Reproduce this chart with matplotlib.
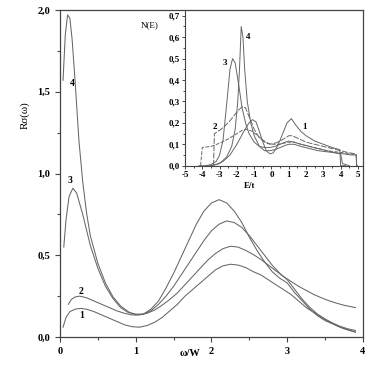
import matplotlib
matplotlib.use("Agg")
import matplotlib.pyplot as plt
from matplotlib.ticker import MultipleLocator, FuncFormatter

# ---------------- main panel data ----------------
x4 = [0.04, 0.07, 0.1, 0.13, 0.16, 0.2, 0.25, 0.3, 0.35, 0.4, 0.5, 0.6, 0.7, 0.8, 0.9, 1.0, 1.1, 1.2, 1.3, 1.4,
      1.5, 1.6, 1.7, 1.8, 1.9, 2.0, 2.1, 2.2, 2.3, 2.4, 2.5, 2.6, 2.7, 2.8, 2.9, 3.0, 3.1, 3.2, 3.3, 3.4,
      3.5, 3.6, 3.7, 3.8, 3.9]
y4 = [1.57, 1.85, 1.97, 1.95, 1.82, 1.56, 1.2, 0.95, 0.76, 0.62, 0.45, 0.33, 0.245, 0.19, 0.155, 0.135, 0.14, 0.17, 0.22, 0.3,
      0.39, 0.49, 0.59, 0.69, 0.77, 0.82, 0.84, 0.82, 0.77, 0.70, 0.61, 0.53, 0.46, 0.40, 0.36, 0.33, 0.27, 0.22, 0.17, 0.13,
      0.10, 0.08, 0.06, 0.045, 0.03]
x3 = [0.05, 0.08, 0.12, 0.17, 0.22, 0.3, 0.4, 0.5, 0.6, 0.7, 0.8, 0.9, 1.0, 1.1, 1.2, 1.3, 1.4, 1.5, 1.6, 1.7,
      1.8, 1.9, 2.0, 2.1, 2.2, 2.3, 2.4, 2.5, 2.6, 2.7, 2.8, 2.9, 3.0, 3.1, 3.2, 3.3, 3.4, 3.5, 3.6, 3.7, 3.8, 3.9]
y3 = [0.55, 0.72, 0.86, 0.91, 0.88, 0.75, 0.56, 0.42, 0.31, 0.235, 0.18, 0.15, 0.14, 0.14, 0.16, 0.2, 0.25, 0.31, 0.38, 0.45,
      0.52, 0.59, 0.65, 0.69, 0.71, 0.70, 0.67, 0.62, 0.56, 0.50, 0.44, 0.39, 0.35, 0.29, 0.23, 0.18, 0.14, 0.11, 0.085, 0.065, 0.05, 0.04]
x2 = [0.11, 0.15, 0.2, 0.26, 0.35, 0.45, 0.55, 0.65, 0.75, 0.85, 0.95, 1.05, 1.15, 1.25, 1.35, 1.45, 1.55, 1.65, 1.75, 1.85,
      1.95, 2.05, 2.15, 2.25, 2.35, 2.45, 2.55, 2.65, 2.75, 2.85, 2.95, 3.05, 3.15, 3.25, 3.35, 3.45, 3.55, 3.65, 3.75, 3.9]
y2 = [0.2, 0.23, 0.245, 0.25, 0.24, 0.22, 0.2, 0.18, 0.16, 0.145, 0.135, 0.135, 0.145, 0.165, 0.195, 0.23, 0.27, 0.32, 0.37, 0.42,
      0.47, 0.51, 0.54, 0.555, 0.55, 0.53, 0.505, 0.475, 0.44, 0.405, 0.37, 0.34, 0.31, 0.285, 0.26, 0.24, 0.222, 0.207, 0.194, 0.18]
x1 = [0.04, 0.08, 0.13, 0.2, 0.27, 0.35, 0.45, 0.55, 0.65, 0.75, 0.85, 0.95, 1.05, 1.15, 1.25, 1.35, 1.45, 1.55, 1.65, 1.75,
      1.85, 1.95, 2.05, 2.15, 2.25, 2.35, 2.45, 2.55, 2.65, 2.75, 2.85, 2.95, 3.05, 3.15, 3.25, 3.35, 3.45, 3.55, 3.65, 3.75, 3.9]
y1 = [0.06, 0.12, 0.155, 0.17, 0.175, 0.17, 0.155, 0.135, 0.115, 0.095, 0.075, 0.063, 0.06, 0.07, 0.09, 0.12, 0.16, 0.2, 0.25, 0.29,
      0.33, 0.37, 0.41, 0.435, 0.445, 0.44, 0.425, 0.40, 0.38, 0.35, 0.32, 0.29, 0.26, 0.22, 0.18, 0.15, 0.12, 0.095, 0.07, 0.05, 0.03]

# ---------------- inset data ----------------
e1 = [-4.2, -3.6, -3.2, -2.8, -2.4, -2.0, -1.6, -1.3, -1.1, -0.9, -0.7, -0.5, -0.3, -0.1, 0.1, 0.3, 0.5, 0.7, 0.9, 1.15,
      1.4, 1.7, 2.0, 2.5, 3.0, 3.5, 3.95, 4.0, 4.3]
n1 = [0, 0, 0.005, 0.02, 0.05, 0.1, 0.16, 0.2, 0.215, 0.205, 0.16, 0.11, 0.07, 0.055, 0.06, 0.085, 0.12, 0.16, 0.2, 0.22,
      0.19, 0.16, 0.14, 0.115, 0.1, 0.085, 0.075, 0.0, 0.0]
e2 = [-3.35, -3.3, -3.0, -2.7, -2.4, -2.1, -1.9, -1.7, -1.5, -1.3, -1.0, -0.7, -0.4, -0.1, 0.2, 0.5, 0.8, 1.0, 1.2, 1.6,
      2.0, 2.5, 3.0, 3.5, 4.0, 4.5, 4.9, 4.92, 5.0]
n2 = [0, 0.15, 0.165, 0.185, 0.21, 0.24, 0.26, 0.275, 0.27, 0.23, 0.17, 0.13, 0.11, 0.1, 0.105, 0.115, 0.13, 0.14, 0.14, 0.125,
      0.11, 0.1, 0.09, 0.08, 0.07, 0.06, 0.055, 0, 0]
e5 = [-4.1, -4.0, -3.5, -3.0, -2.5, -2.0, -1.7, -1.4, -1.1, -0.8, -0.5, -0.2, 0.1, 0.4, 0.7, 1.0, 1.3, 1.7, 2.2, 2.7,
      3.2, 3.7, 4.2, 4.6, 4.9, 4.92]
n5 = [0, 0.085, 0.09, 0.105, 0.125, 0.15, 0.165, 0.17, 0.16, 0.14, 0.12, 0.105, 0.1, 0.1, 0.105, 0.11, 0.11, 0.1, 0.09, 0.08,
      0.07, 0.065, 0.06, 0.055, 0.05, 0]
e3 = [-3.8, -3.5, -3.2, -3.0, -2.8, -2.6, -2.4, -2.25, -2.1, -1.9, -1.7, -1.5, -1.3, -1.0, -0.7, -0.4, -0.1, 0.2, 0.5, 0.8,
      1.0, 1.3, 1.7, 2.2, 2.7, 3.2, 3.7, 4.0, 4.1, 4.5]
n3 = [0, 0.005, 0.02, 0.05, 0.12, 0.28, 0.45, 0.5, 0.48, 0.38, 0.27, 0.2, 0.15, 0.11, 0.09, 0.085, 0.085, 0.09, 0.1, 0.11,
      0.115, 0.11, 0.1, 0.09, 0.08, 0.07, 0.06, 0.055, 0.01, 0]
e4 = [-3.5, -3.0, -2.6, -2.3, -2.1, -1.95, -1.85, -1.75, -1.65, -1.55, -1.4, -1.2, -1.0, -0.7, -0.4, -0.1, 0.2, 0.5, 0.8, 1.0,
      1.3, 1.7, 2.2, 2.7, 3.2, 3.7, 4.2, 4.6, 4.9, 4.92]
n4 = [0, 0.01, 0.04, 0.09, 0.17, 0.3, 0.45, 0.65, 0.6, 0.45, 0.3, 0.2, 0.14, 0.09, 0.07, 0.07, 0.075, 0.085, 0.095, 0.1,
      0.1, 0.09, 0.08, 0.07, 0.065, 0.06, 0.055, 0.05, 0.05, 0]

serif = ['Liberation Serif', 'DejaVu Serif']
plt.rcParams['font.family'] = serif
LC = '#666666'

fig = plt.figure(figsize=(3.82, 3.82), dpi=100)
ax = fig.add_axes([60/382, 1-337/382, (363-60)/382, (337-10)/382])

for xs, ys in ((x4, y4), (x3, y3), (x2, y2), (x1, y1)):
    ax.plot(xs, ys, color=LC, lw=0.75)

ax.set_xlim(0, 4)
ax.set_ylim(0, 2.0)
ax.xaxis.set_major_locator(MultipleLocator(1))
ax.xaxis.set_minor_locator(MultipleLocator(0.5))
ax.yaxis.set_major_locator(MultipleLocator(0.5))
ax.yaxis.set_minor_locator(MultipleLocator(0.25))
ax.yaxis.set_major_formatter(FuncFormatter(lambda v, p: f"{v:.1f}".replace('.', ',')))
ax.xaxis.set_major_formatter(FuncFormatter(lambda v, p: f"{int(round(v))}"))
ax.tick_params(which='both', direction='out', labelsize=7.5, color='#444444', width=0.8)
ax.tick_params(which='major', length=3.5)
ax.tick_params(which='minor', length=2)
for s in ax.spines.values():
    s.set_color('#444444')
    s.set_linewidth(0.9)

ax.text(0.16, 1.55, '4', fontsize=7, fontweight='bold', ha='center', va='center')
ax.text(0.13, 0.96, '3', fontsize=7, fontweight='bold', ha='center', va='center')
ax.text(0.28, 0.28, '2', fontsize=7, fontweight='bold', ha='center', va='center')
ax.text(0.28, 0.13, '1', fontsize=7, fontweight='bold', ha='center', va='center')
fig.text(25/382, 1-115/382, 'Rσ(ω)', rotation=90, fontsize=8, ha='center', va='center')
fig.text(190/382, 1-353/382, 'ω/W', fontsize=7.5, fontweight='bold', ha='center', va='center')

# ---------------- inset ----------------
ins = fig.add_axes([185/382, 1-165.7/382, (363-185)/382, (165.7-10)/382])
ins.patch.set_alpha(0)
ins.plot(e1, n1, color=LC, lw=0.7)
ins.plot(e2, n2, color=LC, lw=0.7, dashes=(6, 1.5))
ins.plot(e5, n5, color=LC, lw=0.7, dashes=(4, 1.5))
ins.plot(e3, n3, color=LC, lw=0.7)
ins.plot(e4, n4, color=LC, lw=0.7)
ins.set_xlim(-5, 5.29)
ins.set_ylim(0, 0.727)
ins.xaxis.set_major_locator(MultipleLocator(1))
ins.xaxis.set_minor_locator(MultipleLocator(0.5))
ins.yaxis.set_major_locator(MultipleLocator(0.1))
ins.yaxis.set_minor_locator(MultipleLocator(0.05))
ins.yaxis.set_major_formatter(FuncFormatter(lambda v, p: f"{v:.1f}".replace('.', ',')))
ins.xaxis.set_major_formatter(FuncFormatter(lambda v, p: f"{int(round(v))}"))
ins.tick_params(which='both', direction='out', labelsize=6.5, color='#444444', width=0.7, pad=1.5)
ins.tick_params(which='major', length=2.5)
ins.tick_params(which='minor', length=1.5)
for lab in ins.get_xticklabels() + ins.get_yticklabels():
    lab.set_fontweight('bold')
for lab in ax.get_xticklabels() + ax.get_yticklabels():
    lab.set_fontweight('bold')
ins.spines['top'].set_visible(False)
ins.spines['right'].set_visible(False)
for s in ('left', 'bottom'):
    ins.spines[s].set_color('#444444')
    ins.spines[s].set_linewidth(0.8)

ins.text(-1.35, 0.6, '4', fontsize=6.5, fontweight='bold', ha='center', va='center')
ins.text(-2.7, 0.48, '3', fontsize=6.5, fontweight='bold', ha='center', va='center')
ins.text(-3.3, 0.18, '2', fontsize=6.5, fontweight='bold', ha='center', va='center')
ins.text(1.9, 0.18, '1', fontsize=6.5, fontweight='bold', ha='center', va='center')
fig.text(150/382, 1-25/382, 'N(E)', fontsize=6.5, ha='center', va='center')
fig.text(250/382, 1-186/382, 'E/t', fontsize=6.5, fontweight='bold', ha='center', va='center')

fig.savefig('out.png', dpi=100)
